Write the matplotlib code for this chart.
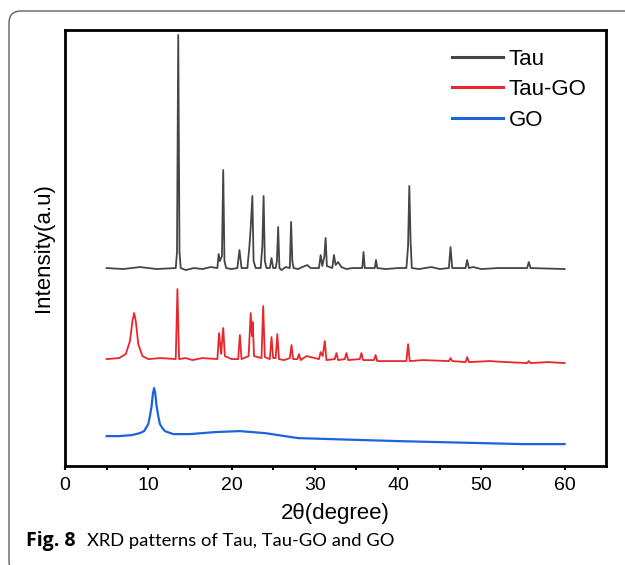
import matplotlib
matplotlib.use('Agg')
import matplotlib.pyplot as plt
from matplotlib.patches import FancyBboxPatch

# XRD patterns (2theta in degree, intensity in arbitrary units)
tau_2theta = [5.0, 7.0, 9.0, 11.0, 13.3, 13.45, 13.6, 13.75, 13.9, 14.5, 15.5, 16.5, 17.5,
              18.3, 18.45, 18.6, 18.85, 19.0, 19.15, 19.35, 20.0, 20.7, 20.95, 21.2,
              21.9, 22.15, 22.3, 22.5, 22.65, 22.9, 23.5, 23.7, 23.85, 24.0, 24.2,
              24.6, 24.8, 25.0, 25.3, 25.45, 25.6, 25.75, 26.0, 26.5, 27.0, 27.15, 27.3,
              27.45, 28.0, 28.5, 29.1, 29.5, 30.5, 30.7, 30.9, 31.15, 31.3, 31.45,
              32.1, 32.3, 32.5, 32.8, 33.2, 33.8, 34.5, 35.7, 35.85, 36.0, 37.2, 37.35,
              37.5, 38.5, 40.0, 41.0, 41.2, 41.35, 41.5, 41.65, 42.5, 44.0, 45.0,
              46.1, 46.3, 46.5, 48.1, 48.3, 48.5, 49.0, 50.0, 52.0, 55.5, 55.7, 55.9, 60.0]
tau_int = [198, 197, 199, 197, 198, 214, 431, 214, 198, 196, 198, 197, 199,
           198, 212, 205, 210, 296, 205, 198, 197, 198, 216, 198,
           198, 220, 238, 270, 205, 198, 198, 220, 270, 205, 198,
           198, 208, 198, 198, 205, 239, 198, 196, 199, 198, 244, 205,
           198, 197, 199, 201, 198, 198, 211, 200, 210, 228, 200,
           198, 211, 201, 204, 199, 197, 198, 198, 214, 198, 198, 206,
           198, 197, 198, 198, 220, 280, 225, 198, 197, 199, 197,
           198, 219, 198, 198, 206, 198, 199, 197, 198, 198, 204, 198, 197]

taugo_2theta = [5.0, 6.5, 7.3, 7.8, 8.1, 8.3, 8.5, 8.8, 9.3, 10.0, 11.5, 13.3, 13.5, 13.7,
                14.5, 15.3, 16.5, 18.3, 18.5, 18.75, 19.0, 19.2, 20.0, 20.8, 21.0, 21.2,
                22.05, 22.3, 22.45, 22.55, 22.7, 23.6, 23.8, 24.0, 24.6, 24.8, 25.0, 25.3,
                25.5, 25.7, 26.3, 27.0, 27.2, 27.4, 27.9, 28.1, 28.3, 29.0, 30.5, 30.7,
                30.95, 31.2, 31.4, 32.4, 32.6, 32.8, 33.6, 33.8, 34.0, 35.4, 35.6, 35.8,
                37.1, 37.3, 37.5, 39.0, 41.0, 41.2, 41.4, 43.0, 46.1, 46.3, 46.5, 48.1,
                48.3, 48.5, 51.0, 53.0, 55.5, 55.7, 55.9, 58.0, 60.0]
taugo_int = [107, 108, 112, 125, 145, 153, 145, 122, 110, 107, 108, 107, 177, 107,
             108, 106, 108, 107, 133, 112, 138, 110, 107, 107, 131, 107,
             110, 153, 130, 144, 110, 108, 160, 109, 107, 129, 108, 108,
             132, 107, 106, 108, 121, 107, 107, 112, 106, 110, 107, 114,
             110, 125, 106, 107, 113, 106, 107, 113, 106, 107, 113, 106,
             106, 111, 105, 105, 105, 122, 105, 106, 105, 108, 105, 104,
             109, 104, 105, 104, 103, 105, 103, 104, 103]

go_2theta = [5.0, 6.5, 8.0, 9.0, 9.5, 10.0, 10.2, 10.4, 10.55, 10.7, 10.85, 11.0, 11.2,
             11.4, 11.7, 12.0, 13.0, 15.0, 18.0, 21.0, 24.0, 28.0, 32.0, 36.0, 40.0,
             45.0, 50.0, 55.0, 60.0]
go_int = [30, 30, 31, 33, 35, 42, 50, 60, 72, 78, 72, 60, 50,
          42, 38, 35, 32, 32, 34, 35, 33, 28, 27, 26, 25,
          24, 23, 22, 22]

labels = ['Tau', 'Tau-GO', 'GO']
colors = ['#454545', '#e8262b', '#1c64dc']

plt.rcParams['font.family'] = ['Liberation Sans', 'DejaVu Sans']

fig = plt.figure(figsize=(6.25, 5.65), dpi=100)
ax = fig.add_axes([0.104, 0.175, 0.866, 0.772])

ax.plot(tau_2theta, tau_int, color=colors[0], lw=1.3, label=labels[0])
ax.plot(taugo_2theta, taugo_int, color=colors[1], lw=1.3, label=labels[1])
ax.plot(go_2theta, go_int, color=colors[2], lw=1.6, label=labels[2])

ax.set_xlim(0, 65)
ax.set_ylim(0, 436)
ax.set_xticks([0, 10, 20, 30, 40, 50, 60])
ax.set_xticks([5, 15, 25, 35, 45, 55], minor=True)
ax.set_yticks([])
ax.tick_params(axis='x', which='both', direction='out', length=3, width=1.5,
               labelsize=14, pad=5)
for s in ax.spines.values():
    s.set_linewidth(2)

ax.set_xlabel('2θ(degree)', fontsize=16, labelpad=6)
ax.set_ylabel('Intensity(a.u)', fontsize=16, labelpad=8)

leg = ax.legend(loc='upper left', bbox_to_anchor=(0.695, 0.982), frameon=False,
                fontsize=16, handlelength=2.3, handletextpad=0.25, labelspacing=0.42,
                borderpad=0)
for h in leg.get_lines():
    h.set_linewidth(2.2)

# caption
fig.text(26 / 625, 1 - 541 / 565, 'Fig. 8', fontsize=14, fontweight='bold',
         family='Open Sans', va='center')
fig.text(87 / 625, 1 - 541 / 565, 'XRD patterns of Tau, Tau-GO and GO', fontsize=13.2,
         family='Lato', va='center')

# rounded frame around the figure
frame = FancyBboxPatch((0.09, -0.08), 6.6, 5.54 + 0.08,
                       boxstyle='round,pad=0,rounding_size=0.12',
                       transform=fig.dpi_scale_trans, fill=False,
                       edgecolor='#606060', lw=1.0, clip_on=False)
fig.patches.append(frame)

fig.savefig('out.png', dpi=100)
